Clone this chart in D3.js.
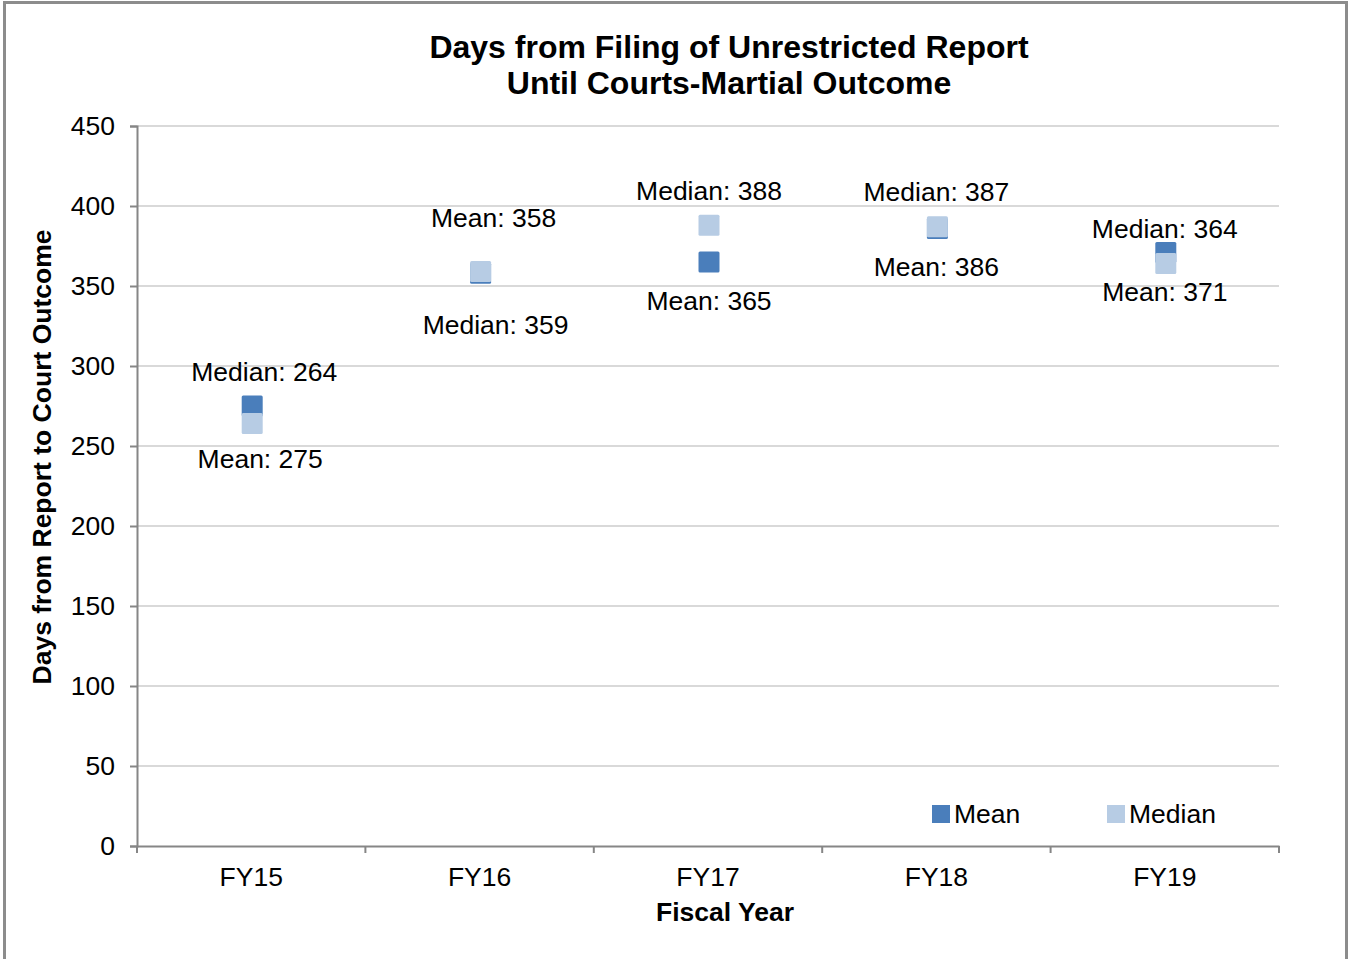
<!DOCTYPE html>
<html>
<head>
<meta charset="utf-8">
<script src="https://cdn.jsdelivr.net/npm/d3@7"></script>
<style>
  body { margin: 0; background: #fff; }
  text { font-family: "Liberation Sans", Arial, sans-serif; fill: #000; }
</style>
</head>
<body>
<div id="chart-container"></div>
<script>
// data
const years = ["FY15", "FY16", "FY17", "FY18", "FY19"];
const meanValues = [275, 358, 365, 386, 371];
const medianValues = [264, 359, 388, 387, 364];
const yTicks = [0, 50, 100, 150, 200, 250, 300, 350, 400, 450];

// manual label nudges (px) as in the original chart
const meanLabelDx = [9, 14, 1, 0, 0];
const meanLabelDy = [53, -55, 39, 38, 39];
const medianLabelDx = [13, 16, 1, 0, 0];
const medianLabelDy = [-52, 53, -34, -35, -35];

const width = 1359;
const height = 959;
const margin = {top: 126, right: 80, bottom: 113, left: 137};
const fontSize = "26.5px";

const svg = d3.select("#chart-container")
    .append("svg")
    .attr("width", width)
    .attr("height", height);

// outer frame
svg.append("rect")
    .attr("x", 4.5).attr("y", 2.5)
    .attr("width", 1342).attr("height", 970)
    .attr("fill", "none")
    .attr("stroke", "#8c8c8c")
    .attr("stroke-width", 3);

const x = d3.scaleBand()
    .domain(years)
    .range([margin.left, width - margin.right]);

const y = d3.scaleLinear()
    .domain([0, 450])
    .range([height - margin.bottom, margin.top]);

// gridlines
svg.append("g")
    .selectAll("line")
    .data(yTicks.filter(d => d > 0))
    .enter().append("line")
    .attr("x1", margin.left)
    .attr("x2", width - margin.right)
    .attr("y1", d => y(d))
    .attr("y2", d => y(d))
    .attr("stroke", "#d9d9d9")
    .attr("stroke-width", 2);

// y axis
const yAxis = svg.append("g")
    .attr("transform", `translate(${margin.left},0)`)
    .call(d3.axisLeft(y).tickValues(yTicks).tickSize(7).tickPadding(15));
yAxis.selectAll("text").style("font-size", fontSize).style("font-family", "Liberation Sans, Arial, sans-serif");

// x axis with ticks at band edges
const xAxis = svg.append("g")
    .attr("transform", `translate(0,${y(0)})`)
    .call(d3.axisBottom(x).tickSize(0).tickPadding(21));
xAxis.selectAll("text").style("font-size", fontSize).style("font-family", "Liberation Sans, Arial, sans-serif");
const edges = years.map(d => x(d)).concat([x.range()[1]]);
xAxis.selectAll(".edge")
    .data(edges)
    .enter().append("line")
    .attr("class", "edge")
    .attr("x1", d => d).attr("x2", d => d)
    .attr("y1", 0).attr("y2", 7)
    .attr("stroke", "#868686")
    .attr("stroke-width", 2);

[yAxis, xAxis].forEach(a => {
    a.select(".domain").attr("stroke", "#868686").attr("stroke-width", 2);
    a.selectAll(".tick line").attr("stroke", "#868686").attr("stroke-width", 2);
});

// markers
const mSize = 21;
const cx = d => x(d) + x.bandwidth() / 2;

function drawSeries(values, color) {
    svg.append("g")
        .selectAll("rect")
        .data(values)
        .enter().append("rect")
        .attr("x", (d, i) => cx(years[i]) - mSize / 2 + 1)
        .attr("y", d => y(d) - mSize / 2)
        .attr("width", mSize)
        .attr("height", mSize)
        .attr("rx", 1.5)
        .attr("fill", color);
}
drawSeries(meanValues, "#4a7ebb");
drawSeries(medianValues, "#b7cce4");

// data labels
function drawLabels(values, name, dx, dy) {
    svg.append("g")
        .selectAll("text")
        .data(values)
        .enter().append("text")
        .attr("x", (d, i) => cx(years[i]) + dx[i])
        .attr("y", (d, i) => y(d) + dy[i])
        .attr("dy", "0.35em")
        .attr("text-anchor", "middle")
        .style("font-size", fontSize)
        .text(d => name + ": " + d);
}
drawLabels(meanValues, "Mean", meanLabelDx, meanLabelDy);
drawLabels(medianValues, "Median", medianLabelDx, medianLabelDy);

// title
const title = svg.append("text")
    .attr("x", 729)
    .attr("y", 58)
    .attr("text-anchor", "middle")
    .style("font-size", "32px")
    .style("font-weight", "bold");
title.append("tspan").attr("x", 729).text("Days from Filing of Unrestricted Report");
title.append("tspan").attr("x", 729).attr("dy", 36).text("Until Courts-Martial Outcome");

// axis titles
svg.append("text")
    .attr("transform", `translate(51,${(margin.top + y(0)) / 2 - 29}) rotate(-90)`)
    .attr("text-anchor", "middle")
    .style("font-size", fontSize)
    .style("font-weight", "bold")
    .text("Days from Report to Court Outcome");

svg.append("text")
    .attr("x", 725)
    .attr("y", 921)
    .attr("text-anchor", "middle")
    .style("font-size", fontSize)
    .style("font-weight", "bold")
    .text("Fiscal Year");

// legend
const legendItems = [
    {name: "Mean", color: "#4a7ebb", x: 932},
    {name: "Median", color: "#b7cce4", x: 1107}
];
const legend = svg.append("g").attr("class", "legend");
legend.selectAll("rect")
    .data(legendItems)
    .enter().append("rect")
    .attr("x", d => d.x)
    .attr("y", 805)
    .attr("width", 18)
    .attr("height", 18)
    .attr("fill", d => d.color);
legend.selectAll("text")
    .data(legendItems)
    .enter().append("text")
    .attr("x", d => d.x + 22)
    .attr("y", 814)
    .attr("dy", "0.35em")
    .style("font-size", fontSize)
    .text(d => d.name);
</script>
</body>
</html>
